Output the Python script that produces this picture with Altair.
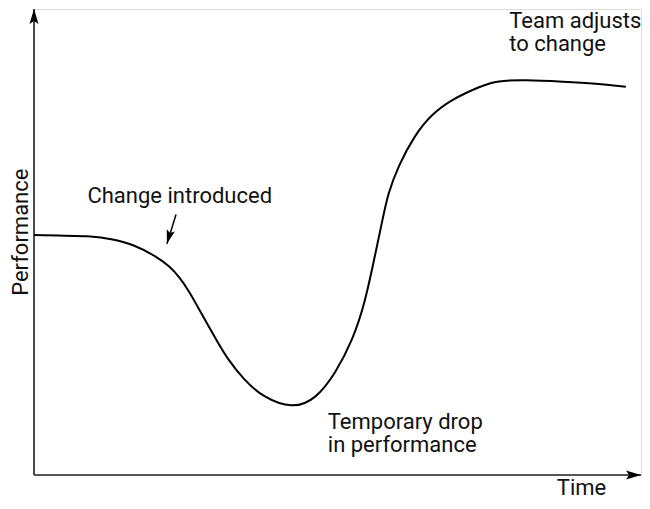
import altair as alt
import pandas as pd

# Curve: time (0-100 along the x axis) vs performance (0-100 along the y axis)
time = [0, 10.0, 12.9, 16.2, 20.3, 22.4, 24.0, 25.5, 26.5, 27.6, 28.9, 30.4, 31.7,
        34.5, 37.7, 42.6, 46.4, 49.7, 52.5, 54.6, 56.2, 57.5, 58.3, 60.0, 62.7,
        65.5, 68.8, 73.7, 76.3, 80.7, 87.3, 92.6, 97.5]
performance = [51.5, 51.3, 50.6, 49.6, 46.8, 44.7, 42.4, 39.5, 37.2, 34.6, 31.6, 28.2,
               25.3, 20.5, 16.7, 14.2, 16.2, 21.9, 28.9, 37.3, 47.3, 55.3, 60.3, 66.3,
               72.9, 77.4, 80.6, 83.5, 84.6, 84.8, 84.4, 84.0, 83.3]

# Annotation texts and their anchors (data units)
label_text = ["Change introduced", "Team adjusts", "to change",
              "Temporary drop", "in performance"]
label_x = [8.8, 78.3, 78.3, 48.4, 48.4]
label_y = [58.4, 96.0, 90.9, 9.9, 4.9]

# Pointer arrow for "Change introduced" (tail -> tip)
pointer_x = [23.4]
pointer_y = [55.9]
pointer_x2 = [21.9]
pointer_y2 = [49.6]
pointer_angle = [196]

# Axis lines and arrow tips
axis_x = [0, 0]
axis_y = [0, 0]
axis_x2 = [0, 100]
axis_y2 = [100, 0]
axis_angle = [0, 90]

FONT = "Roboto"
ARROW = "M0,0L0.6,2L0,1.6L-0.6,2Z"

xs = alt.Scale(domain=[0, 100], nice=False, zero=False)
ys = alt.Scale(domain=[0, 100], nice=False, zero=False)

curve_df = pd.DataFrame({"x": time, "y": performance})
labels_df = pd.DataFrame({"x": label_x, "y": label_y, "t": label_text})
pointer_df = pd.DataFrame({"x": pointer_x, "y": pointer_y, "x2": pointer_x2,
                           "y2": pointer_y2, "angle": pointer_angle})
axes_df = pd.DataFrame({"x": axis_x, "y": axis_y, "x2": axis_x2, "y2": axis_y2,
                        "angle": axis_angle})

axis_lines = alt.Chart(axes_df).mark_rule(color="#222", strokeWidth=1.6).encode(
    x=alt.X("x:Q", scale=xs, axis=None),
    y=alt.Y("y:Q", scale=ys, axis=None),
    x2="x2:Q", y2="y2:Q")

axis_heads = alt.Chart(axes_df).mark_point(
    shape=ARROW, filled=True, size=225, color="#000", opacity=1, strokeWidth=0
).encode(
    x=alt.X("x2:Q", scale=xs, axis=None),
    y=alt.Y("y2:Q", scale=ys, axis=None),
    angle=alt.Angle("angle:Q", scale=None))

curve = alt.Chart(curve_df).mark_line(
    color="#000", strokeWidth=2, interpolate="basis"
).encode(
    x=alt.X("x:Q", scale=xs, axis=None),
    y=alt.Y("y:Q", scale=ys, axis=None))

pointer_line = alt.Chart(pointer_df).mark_rule(color="#000", strokeWidth=1.5).encode(
    x=alt.X("x:Q", scale=xs, axis=None),
    y=alt.Y("y:Q", scale=ys, axis=None),
    x2="x2:Q", y2="y2:Q")

pointer_head = alt.Chart(pointer_df).mark_point(
    shape=ARROW, filled=True, size=196, color="#000", opacity=1, strokeWidth=0
).encode(
    x=alt.X("x2:Q", scale=xs, axis=None),
    y=alt.Y("y2:Q", scale=ys, axis=None),
    angle=alt.Angle("angle:Q", scale=None))

labels = alt.Chart(labels_df).mark_text(
    font=FONT, fontSize=22, color="#111", align="left", baseline="alphabetic"
).encode(
    x=alt.X("x:Q", scale=xs, axis=None),
    y=alt.Y("y:Q", scale=ys, axis=None),
    text="t:N")

time_title = alt.Chart(pd.DataFrame({"x": [90.2], "y": [-4.2], "t": ["Time"]})).mark_text(
    font=FONT, fontSize=22, color="#111", align="center", baseline="alphabetic"
).encode(
    x=alt.X("x:Q", scale=xs, axis=None),
    y=alt.Y("y:Q", scale=ys, axis=None),
    text="t:N")

perf_title = alt.Chart(pd.DataFrame({"x": [-1.0], "y": [52.1], "t": ["Performance"]})).mark_text(
    font=FONT, fontSize=22, color="#111", align="center", baseline="alphabetic", angle=270
).encode(
    x=alt.X("x:Q", scale=xs, axis=None),
    y=alt.Y("y:Q", scale=ys, axis=None),
    text="t:N")

chart = alt.layer(
    axis_lines, curve, pointer_line, axis_heads, pointer_head, labels, time_title, perf_title
).properties(
    width=607, height=466,
    padding={"left": 26, "top": 1, "right": 1, "bottom": 26},
    autosize=alt.AutoSizeParams(type="none"),
).configure_view(stroke=None).configure(background="white")

chart.save("out.html", embed_options={"renderer": "svg", "actions": False})
